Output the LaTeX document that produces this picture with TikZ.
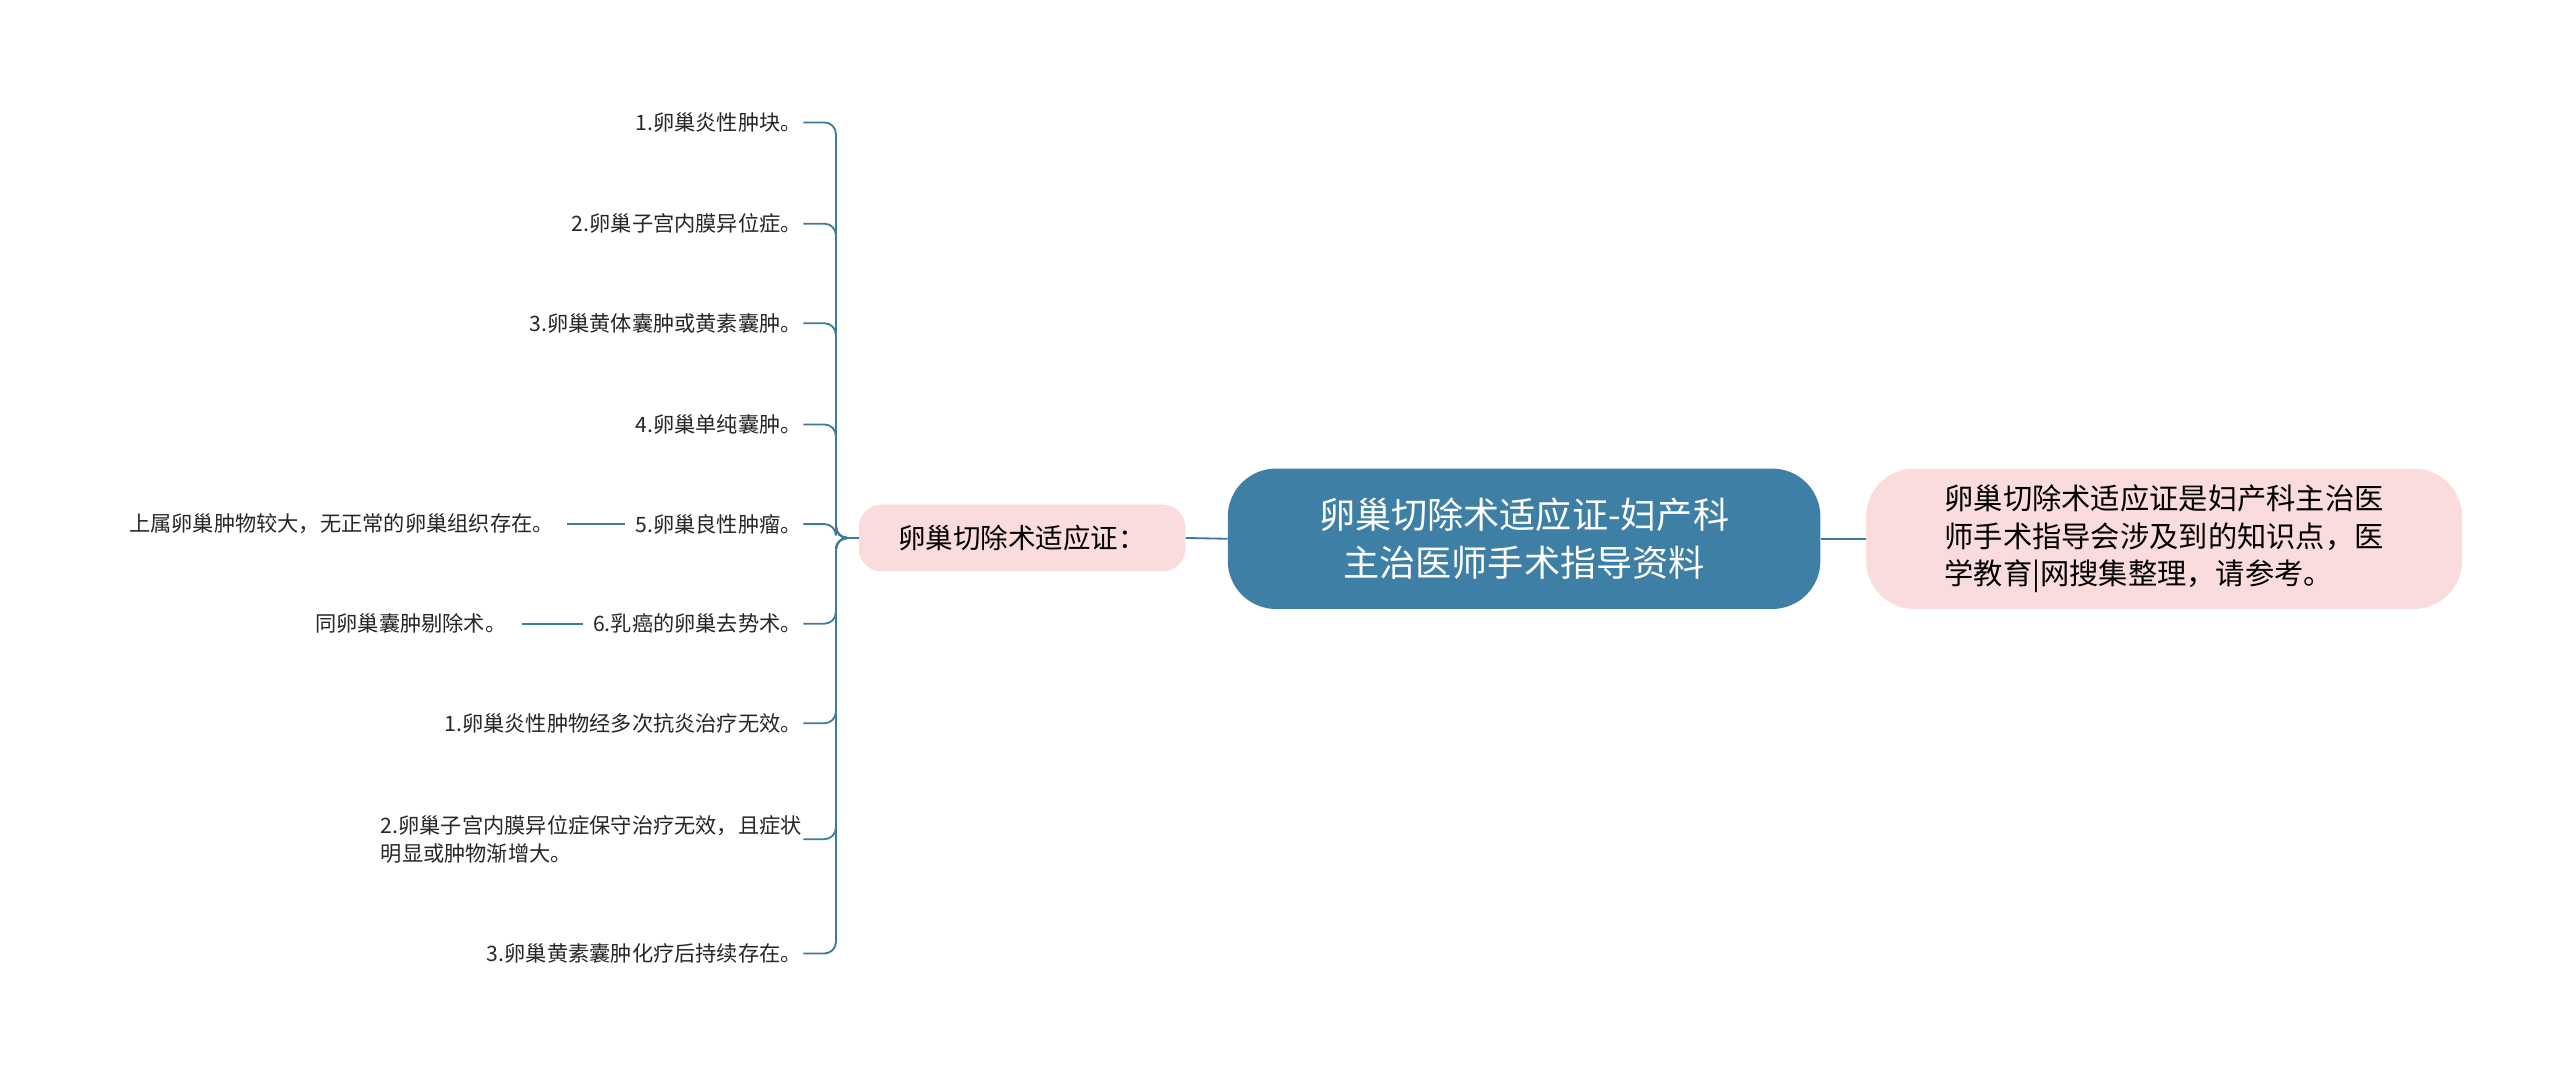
\documentclass[tikz,border=0pt]{standalone}
\usepackage{fontspec}
\setmainfont{Noto Sans CJK SC}
\definecolor{lc}{HTML}{3E7A9C}
\definecolor{cb}{HTML}{3E7FA6}
\definecolor{pk}{HTML}{FBDCDC}
\begin{document}
\begin{tikzpicture}[x=0.05cm,y=-0.05cm,
 leaf/.style={anchor=east,inner sep=1pt,font=\fontsize{18.5}{24}\selectfont,text=black!85},
 con/.style={draw=lc,line width=1.6pt,rounded corners=10}]
\useasboundingbox (0,0) rectangle (1568,660);
\node[fill=cb,rounded corners=42,minimum width=363*0.05cm,minimum height=86*0.05cm,text=white,align=center,font=\fontsize{31.5}{42}\selectfont] (c) at (933.5,330) {卵巢切除术适应证-妇产科\\主治医师手术指导资料};
\node[fill=pk,rounded corners=42,minimum width=365*0.05cm,minimum height=86*0.05cm,align=left,font=\fontsize{25.5}{33}\selectfont] (r) at (1325.5,330) {卵巢切除术适应证是妇产科主治医\\师手术指导会涉及到的知识点，医\\学教育|网搜集整理，请参考。};
\node[fill=pk,rounded corners=20,minimum width=200*0.05cm,minimum height=41*0.05cm,font=\fontsize{24}{30}\selectfont] (l) at (626,329.5) {卵巢切除术适应证：};
\draw[con] (c.east) -- (r.west);
\draw[con] (l.east) -- (c.west);
\foreach \n/\y/\t in {a/75/1.卵巢炎性肿块。,b/137/2.卵巢子宫内膜异位症。,d/198/3.卵巢黄体囊肿或黄素囊肿。,e/260/4.卵巢单纯囊肿。,f/321/5.卵巢良性肿瘤。,g/382/6.乳癌的卵巢去势术。,h/443/1.卵巢炎性肿物经多次抗炎治疗无效。,k/584/3.卵巢黄素囊肿化疗后持续存在。}{
 \node[leaf] (\n) at (492,\y) {\t};
 \draw[con] (l.west) -- (512,329.5) -- (512,\y) -- (\n.east);
}
\node[leaf,align=left] (j) at (492,514) {2.卵巢子宫内膜异位症保守治疗无效，且症状\\明显或肿物渐增大。};
\draw[con] (l.west) -- (512,329.5) -- (512,514) -- (j.east);
\node[leaf] (f2) at (340,321) {上属卵巢肿物较大，无正常的卵巢组织存在。};
\node[leaf] (g2) at (311,382) {同卵巢囊肿剔除术。};
\draw[con] ([xshift=-8]f.west) -- ([xshift=10]f2.east);
\draw[con] ([xshift=-8]g.west) -- ([xshift=12]g2.east);
\end{tikzpicture}
\end{document}
